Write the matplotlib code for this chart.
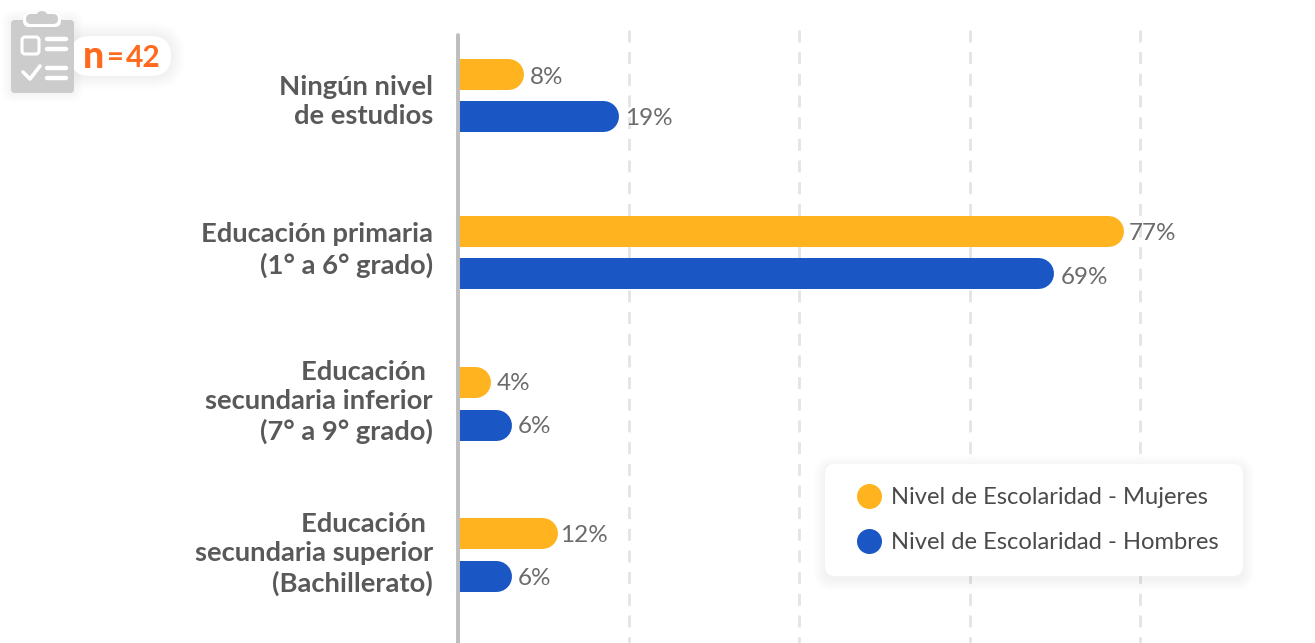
import matplotlib
matplotlib.use("Agg")
import matplotlib.pyplot as plt
from matplotlib.lines import Line2D
from matplotlib.patches import FancyBboxPatch, Circle

plt.rcParams['font.family'] = ['Lato', 'DejaVu Sans']

categories = ["Ningún nivel\nde estudios", "Educación primaria\n(1° a 6° grado)",
              "Educación \nsecundaria inferior\n(7° a 9° grado)",
              "Educación \nsecundaria superior\n(Bachillerato)"]
mujeres = [7.6, 78.1, 3.7, 11.6]
hombres = [18.8, 69.8, 6.2, 6.2]
mujeres_labels = ["8%", "77%", "4%", "12%"]
hombres_labels = ["19%", "69%", "6%", "6%"]
series_names = ["Nivel de Escolaridad - Mujeres", "Nivel de Escolaridad - Hombres"]
grid_ticks = [20, 40, 60, 80]
sample = "42"

W, H = 1315, 643
ORANGE, BLUE = "#FFB41F", "#1A57C4"
TXT = "#595959"
group_y = [95, 252, 403.5, 554.5]
label_y = [101.5, 250, 402, 554]
OFF, BAR_PX = 21.3, 31
PX = 8.52
AX0 = 458.5
m_dx, m_dy = [7, 5, 7, 3], [3.5, 2.5, 1, 2.5]
h_dx, h_dy = [6, 8, 6, 6], [2.5, 4, 1.5, 2.5]

fig = plt.figure(figsize=(W/100, H/100), dpi=100, facecolor="white")
ax = fig.add_axes([AX0/W, 0, (W-AX0)/W, 1])
ax.set_xlim(0, (W-AX0)/PX)
ax.set_ylim(H, 0)
ax.axis("off")

for t in grid_ticks:
    ax.plot([t, t], [30, H], color="#E4E4E4", lw=2.0, dashes=(4.3, 3.5), zorder=1)

lw = BAR_PX*0.72
r = BAR_PX/2/PX
for vals, labs, sign, col, dxs, dys in [(mujeres, mujeres_labels, -1, ORANGE, m_dx, m_dy),
                                        (hombres, hombres_labels, 1, BLUE, h_dx, h_dy)]:
    for g, v, lab, dx, dy in zip(group_y, vals, labs, dxs, dys):
        y = g + sign*OFF
        ax.hlines(y, 0, v-r, color=col, lw=lw, capstyle="round", zorder=3)
        ax.text(v + dx/PX, y+dy, lab, color="#6B6B6B", fontsize=17.5, va="center", ha="left", zorder=4)

# overlay in pixel units
ov = fig.add_axes([0, 0, 1, 1], facecolor="none")
ov.set_xlim(0, W); ov.set_ylim(H, 0); ov.axis("off")
ov.plot([458, 458], [35, H+5], color="#BDBDBD", lw=2.8, solid_capstyle="round", zorder=5)

for ly, c in zip(label_y, categories):
    ov.text(433, ly, c, ha="right", va="center", fontsize=19.7, fontweight="bold",
            color=TXT, linespacing=1.27, multialignment="right")

def rbox(x0, y0, x1, y1, rad, **k):
    p = FancyBboxPatch((x0, y0), x1-x0, y1-y0, boxstyle=f"round,pad=0,rounding_size={rad}", lw=0, **k)
    ov.add_patch(p)
    return p

# legend card
for i in range(12, 0, -1):
    rbox(825-i, 464-i+3, 1243+i, 576+i+3, 10+i, fc="black", alpha=0.005, zorder=6)
rbox(825, 464, 1243, 576, 10, fc="white", zorder=7)
handles = [Line2D([], [], ls="", marker="o", ms=18, color=ORANGE, mew=0),
           Line2D([], [], ls="", marker="o", ms=18, color=BLUE, mew=0)]
leg = ov.legend(handles, series_names, loc="upper left", bbox_to_anchor=(849/W, 1-479/H),
                bbox_transform=fig.transFigure, frameon=False, fontsize=17.1, labelcolor="#4A4A4A",
                handlelength=1.0, handletextpad=0.43, labelspacing=1.0, borderpad=0.35, borderaxespad=0)
leg.set_zorder(8)

# n pill
for i in range(14, 0, -1):
    rbox(70-i, 36-i, 171+i, 76+i, 20+i, fc="black", alpha=0.0025, zorder=6)
rbox(70, 36, 171, 76, 20, fc="white", zorder=7)
ov.text(83, 57, "n", color="#FF6A1F", fontsize=27, fontweight="black", ha="left", va="center", zorder=9)
ov.text(107, 58, "=", color="#FF6A1F", fontsize=21, fontweight="bold", ha="left", va="center", zorder=9)
ov.text(126, 58, sample, color="#FF6A1F", fontsize=21.5, fontweight="bold", ha="left", va="center", zorder=9)

# clipboard icon
GR = "#CCCCCC"
for i in range(10, 0, -1):
    rbox(11-i, 20-i, 74+i, 93+i, 4+i, fc="black", alpha=0.002, zorder=6)
rbox(11, 20, 74, 93, 4, fc=GR, zorder=8)
rbox(23, 13, 61, 27, 6, fc="white", zorder=8.1)
rbox(26, 14, 58, 24, 5, fc=GR, zorder=8.2)
ov.add_patch(Circle((42, 17), 6, fc=GR, lw=0, zorder=8.2))
ov.add_patch(FancyBboxPatch((22, 37), 17, 17, boxstyle="round,pad=0,rounding_size=3", fc="none", ec="white", lw=2.2, zorder=8.3))
for x0, x1, y in [(47, 66, 38.5), (47, 66, 48.5), (47, 66, 68), (47, 66, 78)]:
    ov.plot([x0, x1], [y, y], color="white", lw=3.2, solid_capstyle="round", zorder=8.3)
ov.plot([23, 30, 40], [72, 79, 66], color="white", lw=2.6, solid_capstyle="round", solid_joinstyle="round", zorder=8.3)

fig.savefig("out.png", dpi=100)
